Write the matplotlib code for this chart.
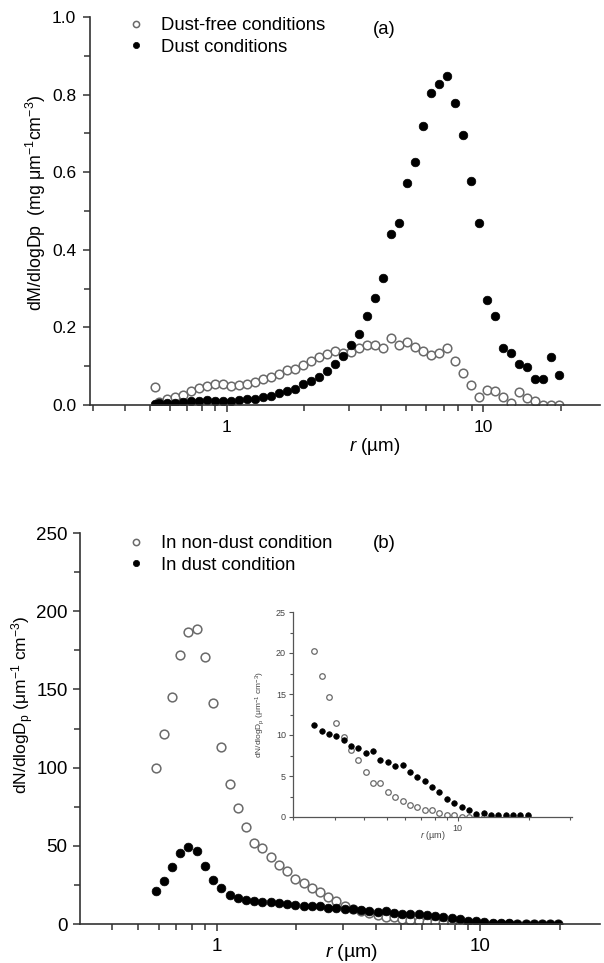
import numpy as np
import matplotlib
matplotlib.use("Agg")
import matplotlib.pyplot as plt
from matplotlib.ticker import FixedLocator, NullFormatter, FixedFormatter

plt.rcParams['font.family'] = ['Liberation Sans', 'DejaVu Sans']
plt.rcParams['mathtext.fontset'] = 'custom'
plt.rcParams['mathtext.rm'] = 'Liberation Sans'
plt.rcParams['mathtext.it'] = 'Liberation Sans:italic'

# APS channel sizes (um)
r_top = [0.523, 0.542, 0.583, 0.626, 0.673, 0.723, 0.777, 0.835, 0.898, 0.965,
         1.037, 1.114, 1.197, 1.286, 1.382, 1.486, 1.596, 1.715, 1.843, 1.981,
         2.129, 2.288, 2.458, 2.642, 2.839, 3.051, 3.278, 3.523, 3.786, 4.068,
         4.371, 4.698, 5.048, 5.425, 5.829, 6.264, 6.732, 7.234, 7.774, 8.354,
         8.977, 9.647, 10.37, 11.14, 11.97, 12.86, 13.82, 14.86, 15.96, 17.15,
         18.43, 19.81]

# (a) mass distributions, mg um-1 cm-3
dm_free = [0.046, 0.009, 0.015, 0.020, 0.026, 0.036, 0.043, 0.049, 0.053, 0.054,
           0.050, 0.052, 0.054, 0.059, 0.066, 0.073, 0.081, 0.089, 0.094, 0.103,
           0.114, 0.124, 0.132, 0.138, 0.135, 0.137, 0.146, 0.154, 0.154, 0.148,
           0.173, 0.154, 0.162, 0.149, 0.140, 0.129, 0.133, 0.146, 0.114, 0.082,
           0.052, 0.020, 0.039, 0.036, 0.020, 0.004, 0.034, 0.017, 0.011, 0.0,
           0.0, 0.0]
dm_dust = [0.003, 0.005, 0.006, 0.006, 0.007, 0.010, 0.010, 0.013, 0.011, 0.010,
           0.010, 0.012, 0.015, 0.015, 0.020, 0.023, 0.030, 0.035, 0.040, 0.054,
           0.061, 0.071, 0.087, 0.106, 0.127, 0.155, 0.182, 0.229, 0.275, 0.328,
           0.440, 0.470, 0.571, 0.625, 0.720, 0.803, 0.827, 0.849, 0.778, 0.696,
           0.577, 0.468, 0.271, 0.230, 0.148, 0.133, 0.106, 0.097, 0.066, 0.066,
           0.124, 0.077]

# (b) number distributions, um-1 cm-3
r_bot = r_top[2:]
dn_free = [100, 121.5, 145.3, 172, 187, 188.4, 171, 141.5, 113.4, 89.3,
           74, 61.8, 52, 48.4, 43, 37.7, 33.7, 29, 26, 22.8,
           20.2, 17.2, 14.6, 11.5, 9.7, 8.2, 7.0, 5.5, 4.2, 4.2,
           3.0, 2.5, 2.0, 1.5, 1.2, 0.9, 0.85, 0.5, 0.3, 0.25,
           0.05, 0.0, 0.0, 0.0, 0.0, 0.0, 0.0, 0.0, 0.0, 0.0]
dn_dust = [21.3, 27.7, 36.6, 45.2, 49.4, 46.9, 37.3, 28.1, 23.2, 18.5,
           16.4, 15.3, 14.9, 14.3, 13.9, 13.6, 12.6, 12.0, 11.6, 11.3,
           11.2, 10.5, 10.1, 9.9, 9.4, 8.7, 8.4, 7.8, 8.0, 7.0,
           6.7, 6.2, 6.3, 5.5, 4.9, 4.4, 3.7, 3.0, 2.2, 1.7,
           1.2, 0.8, 0.4, 0.45, 0.25, 0.2, 0.2, 0.2, 0.2, 0.2]
# inset starts at the 2.458 um channel
n_inset_skip = 20

W, H = 604, 963
fig = plt.figure(figsize=(W / 100, H / 100), dpi=100)


def px_axes(left, top, right, bottom):
    return fig.add_axes([left / W, 1 - bottom / H, (right - left) / W, (bottom - top) / H])


def style_log_x(ax, lo, hi, minors):
    ax.set_xscale('log')
    ax.set_xlim(lo, hi)
    ax.xaxis.set_major_locator(FixedLocator([1, 10]))
    ax.xaxis.set_major_formatter(FixedFormatter(['1', '10']))
    ax.xaxis.set_minor_locator(FixedLocator(minors))
    ax.xaxis.set_minor_formatter(NullFormatter())
    for s in ['top', 'right']:
        ax.spines[s].set_visible(False)


open_kw = dict(ls='none', marker='o', mfc='white', mec='#6a6a6a', mew=1.1)
fill_kw = dict(ls='none', marker='o', mfc='black', mec='black', mew=0.5)
minor_main = [0.3, 0.4, 0.5, 0.6, 0.7, 0.8, 0.9, 2, 3, 4, 5, 6, 7, 8, 9, 20]
leg_kw = dict(loc='upper left', bbox_transform=fig.transFigure, frameon=False, fontsize=13.3,
              markerscale=0.72, handletextpad=0.85, labelspacing=0.25, handlelength=1.0,
              borderpad=0, borderaxespad=0)

# ---- panel (a)
ax1 = px_axes(90, 17, 600, 405)
style_log_x(ax1, 0.293, 28.5, minor_main)
ax1.set_ylim(0, 1.0)
ax1.set_yticks([0.0, 0.2, 0.4, 0.6, 0.8, 1.0])
ax1.set_yticklabels(['0.0', '0.2', '0.4', '0.6', '0.8', '1.0'])
ax1.set_yticks([0.1, 0.3, 0.5, 0.7, 0.9], minor=True)
ax1.plot(r_top, dm_free, ms=6.2, label='Dust-free conditions', **open_kw)
ax1.plot(r_top, dm_dust, ms=6.2, label='Dust conditions', **fill_kw)
ax1.tick_params(which='both', direction='out', width=1.1, labelsize=12.5, color='#333333')
ax1.tick_params(which='major', length=5, pad=5)
ax1.tick_params(which='minor', length=4)
ax1.tick_params(axis='x', which='major', pad=6)
for s in ['left', 'bottom']:
    ax1.spines[s].set_linewidth(1.2)
    ax1.spines[s].set_color('#333333')
ax1.set_ylabel(r'dM/dlogDp  (mg $\mathrm{\mu}$m$^{-1}$cm$^{-3}$)', fontsize=12.8)
ax1.yaxis.label.set_va('center')
ax1.yaxis.set_label_coords(-0.106, 0.52)
ax1.set_xlabel(r'$\mathit{r}$ (µm)', fontsize=13.5)
ax1.xaxis.label.set_va('center')
ax1.xaxis.set_label_coords(0.559, -0.108)
ax1.legend(bbox_to_anchor=(127 / W, 1 - 17 / H), **leg_kw)
fig.text(384 / W, 1 - 29 / H, '(a)', fontsize=13.3, ha='center', va='center')

# ---- panel (b)
ax2 = px_axes(80, 533, 600, 924)
style_log_x(ax2, 0.301, 28.5, minor_main)
ax2.set_ylim(0, 250)
ax2.set_yticks([0, 50, 100, 150, 200, 250])
ax2.set_yticks([25, 75, 125, 175, 225], minor=True)
ax2.plot(r_bot, dn_free, ms=6.3, label='In non-dust condition', **open_kw)
ax2.plot(r_bot, dn_dust, ms=6.3, label='In dust condition', **fill_kw)
ax2.tick_params(which='both', direction='out', width=1.1, labelsize=13.5, color='#333333')
ax2.tick_params(which='major', length=5, pad=4)
ax2.tick_params(which='minor', length=4)
ax2.tick_params(axis='x', which='major', pad=5)
for s in ['left', 'bottom']:
    ax2.spines[s].set_linewidth(1.2)
    ax2.spines[s].set_color('#333333')
ax2.set_ylabel(r'dN/dlogD$_\mathrm{p}$ ($\mathrm{\mu}$m$^{-1}$ cm$^{-3}$)', fontsize=12.5)
ax2.yaxis.label.set_va('center')
ax2.yaxis.set_label_coords(-0.11, 0.56)
ax2.set_xlabel(r'$\mathit{r}$ (µm)', fontsize=14)
ax2.xaxis.label.set_va('center')
ax2.xaxis.set_label_coords(0.523, -0.072)
ax2.legend(bbox_to_anchor=(127 / W, 1 - 535 / H), **leg_kw)
fig.text(384 / W, 1 - 543 / H, '(b)', fontsize=13.5, ha='center', va='center')

# ---- inset
ax3 = px_axes(293, 612, 572, 817)
style_log_x(ax3, 2.0, 30.5, [2, 3, 4, 5, 6, 7, 8, 9, 20, 30])
ax3.set_ylim(0, 25)
ax3.set_yticks([0, 5, 10, 15, 20, 25])
ax3.set_yticks([2.5, 7.5, 12.5, 17.5, 22.5], minor=True)
ax3.plot(r_bot[n_inset_skip:], dn_free[n_inset_skip:], ms=4.0, **dict(open_kw, mew=0.9))
ax3.plot(r_bot[n_inset_skip:], dn_dust[n_inset_skip:], ms=4.0, **fill_kw)
ax3.tick_params(which='both', direction='out', width=0.8, labelsize=6.5, color='#555555',
                labelcolor='#444444')
ax3.tick_params(which='major', length=3, pad=2)
ax3.tick_params(which='minor', length=2.5)
for s in ['left', 'bottom']:
    ax3.spines[s].set_linewidth(0.9)
    ax3.spines[s].set_color('#555555')
ax3.set_ylabel(r'dN/dlogD$_\mathrm{p}$ ($\mathrm{\mu}$m$^{-1}$ cm$^{-3}$)', fontsize=6, color='#444444')
ax3.yaxis.label.set_va('center')
ax3.yaxis.set_label_coords(-0.118, 0.5)
ax3.set_xlabel(r'$\mathit{r}$ (µm)', fontsize=6.5, color='#444444')
ax3.xaxis.label.set_va('center')
ax3.xaxis.set_label_coords(0.5, -0.09)

fig.savefig('out.png', dpi=100)
